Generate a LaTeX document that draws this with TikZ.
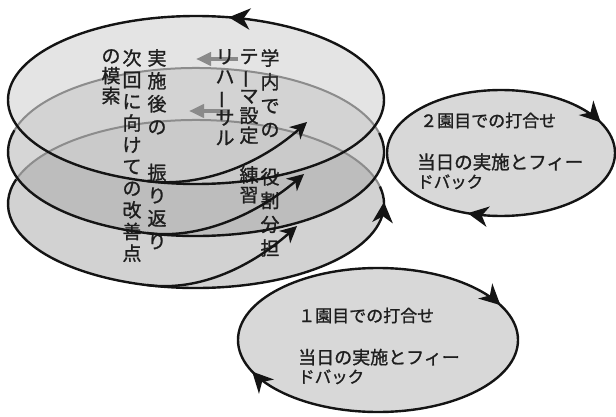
\documentclass[tikz,border=0pt]{standalone}
\usepackage{fontspec}
\newfontfamily\cjk[FakeBold=1.2]{Noto Sans CJK JP}
\usetikzlibrary{arrows.meta}
\definecolor{cA}{HTML}{E4E4E4}
\definecolor{cB}{HTML}{D3D3D3}
\definecolor{cC}{HTML}{CACACA}
\definecolor{cD}{HTML}{BDBDBD}
\definecolor{cE}{HTML}{D2D2D2}
\definecolor{cF}{HTML}{D6D6D6}
\definecolor{cR}{HTML}{D8D8D8}
\definecolor{ln}{HTML}{8C8C8C}
\definecolor{garr}{HTML}{8A8A8A}
\definecolor{txt}{HTML}{1E1E1E}
\newcommand\vbar{\rotatebox[origin=c]{90}{ー}}
% arrowhead: #1 = size factor, #2 = named tip coordinate, #3 = rotation
\newcommand\ahead[3][1]{\fill[black!92, shift={(#2)}, rotate=#3, scale=#1] (0,0) -- (-16,-8) -- (-11,0) -- (-16,8) -- cycle;}
\tikzset{
  blk/.style={line width=2.4pt, draw=black!92},
  gry/.style={line width=2pt, draw=ln},
  garrow/.style={line width=4.5pt, draw=garr, -{Triangle[length=15pt,width=13pt]}},
  vcol/.style={inner sep=0pt, anchor=north, align=center, text=txt},
  lbl/.style={inner sep=0pt, anchor=base west, text=txt},
  big/.style={x radius=188, y radius=84}}
\begin{document}
\begin{tikzpicture}[x=1pt,y=-1pt]
\useasboundingbox (0,0) rectangle (616,417);
\coordinate (E1c) at (196,100);
\coordinate (E2c) at (196,152);
\coordinate (E3c) at (196,204);
\coordinate (Rc) at (501,153);
\coordinate (Bc) at (378,340);

% fills of the stacked ellipses
\fill[cE] (E3c) ellipse [big];
\fill[cF] (E2c) ellipse [big];
\begin{scope}
  \clip (E3c) ellipse [big];
  \fill[cD] (E2c) ellipse [big];
\end{scope}
\fill[cA] (E1c) ellipse [big];
\begin{scope}
  \clip (E1c) ellipse [big];
  \fill[cB] (E2c) ellipse [big];
  \clip (E2c) ellipse [big];
  \fill[cC] (E3c) ellipse [big];
\end{scope}

% hidden (gray) upper edges
\draw[gry] (E2c) ++(195:188 and 84) arc[start angle=195, end angle=347, big];
\draw[gry] (E3c) ++(197:188 and 84) arc[start angle=197, end angle=350, big];

% gray arrows
\coordinate (g1s) at (238,59);
\coordinate (g1e) at (196,59);
\coordinate (g2s) at (230,111);
\coordinate (g2e) at (189,111);
\draw[garrow] (g1s) -- (g1e);
\draw[garrow] (g2s) -- (g2e);

% vertical texts
\node[vcol, font=\cjk\fontsize{19}{23.75}\selectfont] (c1) at (270,49) {学\\内\\で\\の\\\mbox{}\\役\\割\\分\\担};
\node[vcol, font=\cjk\fontsize{19}{19.8}\selectfont] (c2) at (249,49) {テ\\\vbar\\マ\\設\\定\\\mbox{}\\練\\習};
\node[vcol, font=\cjk\fontsize{19}{20}\selectfont] (c3) at (225,49) {リ\\ハ\\\vbar\\サ\\ル};
\node[vcol, font=\cjk\fontsize{19}{22.9}\selectfont] (c4) at (157,49) {実\\施\\後\\の\\\mbox{}\\振\\り\\返\\り};
\node[vcol, font=\cjk\fontsize{19}{21.7}\selectfont] (c5) at (132,49) {次\\回\\に\\向\\け\\て\\の\\改\\善\\点};
\node[vcol, font=\cjk\fontsize{19}{20}\selectfont] (c6) at (111,49) {の\\模\\索};

% black outlines
\draw[blk] (E1c) ellipse [big];
\draw[blk] (E2c) ++(-13:188 and 84) arc[start angle=-13, end angle=195, big];
\draw[blk] (E3c) ++(-12:188 and 84) arc[start angle=-12, end angle=197, big];
\coordinate (h1) at (228.7,17.3);
\coordinate (h2) at (384,202);
\ahead[1.35]{h1}{175.5}
\ahead[1.3]{h2}{86}

% rising spiral curves
\coordinate (r1a) at (147,181);
\coordinate (r1b) at (200,188);
\coordinate (r1c) at (260,165);
\coordinate (r1d) at (307,122);
\coordinate (r2a) at (147,233);
\coordinate (r2b) at (200,240);
\coordinate (r2c) at (258,214);
\coordinate (r2d) at (304,174);
\coordinate (r3a) at (147,285);
\coordinate (r3b) at (200,292);
\coordinate (r3c) at (253,266);
\coordinate (r3d) at (297,226);
\draw[blk, shorten >=7pt] (r1a) .. controls (r1b) and (r1c) .. (r1d);
\draw[blk, shorten >=7pt] (r2a) .. controls (r2b) and (r2c) .. (r2d);
\draw[blk, shorten >=7pt] (r3a) .. controls (r3b) and (r3c) .. (r3d);
\ahead[1.05]{r1d}{42.5}
\ahead[1.05]{r2d}{41}
\ahead[1.05]{r3d}{42}

% right ellipse (2nd)
\draw[blk, fill=cR] (Rc) ellipse [x radius=114, y radius=63];
\coordinate (h3) at (600.7,122.4);
\coordinate (h4) at (467.7,213.2);
\ahead[1.3]{h3}{-45}
\ahead[1.3]{h4}{-189.6}
\node[lbl, font=\cjk\fontsize{17}{17}\selectfont] (t2a) at (420,127) {２園目での打合せ};
\node[lbl, font=\cjk\fontsize{18.5}{18}\selectfont] (t2b) at (417,169) {当日の実施とフィー};
\node[lbl, font=\cjk\fontsize{16.5}{17}\selectfont] (t2c) at (417,188) {ドバック};

% bottom ellipse (1st)
\draw[blk, fill=cR] (Bc) ellipse [x radius=140, y radius=72];
\coordinate (h5) at (500.4,305.1);
\coordinate (h6) at (252.2,371.6);
\ahead[1.3]{h5}{-42.9}
\ahead[1.3]{h6}{-226.5}
\node[lbl, font=\cjk\fontsize{17}{17}\selectfont] (t1a) at (298,322) {１園目での打合せ};
\node[lbl, font=\cjk\fontsize{18}{18}\selectfont] (t1b) at (298,364) {当日の実施とフィー};
\node[lbl, font=\cjk\fontsize{16.5}{17}\selectfont] (t1c) at (298,383) {ドバック};
\end{tikzpicture}
\end{document}
